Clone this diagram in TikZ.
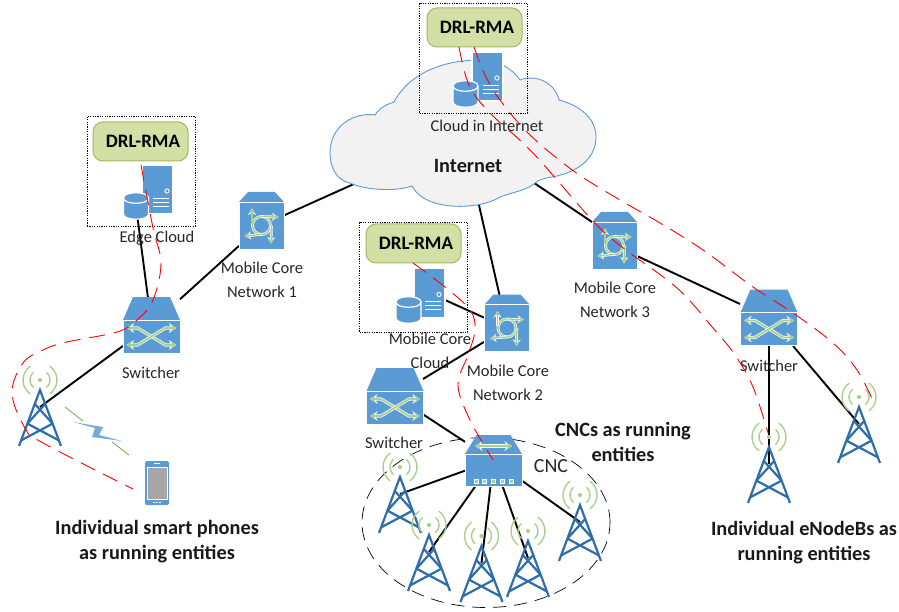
\documentclass[tikz,border=0pt]{standalone}
\usepackage{fontspec}
\setmainfont{Carlito}
\usetikzlibrary{arrows.meta,shapes.geometric}
\definecolor{iconblue}{HTML}{5B9BD5}
\definecolor{towerblue}{HTML}{2E6DA8}
\definecolor{iconGreen}{HTML}{A9D18E}
\definecolor{drlfill}{HTML}{D3E0A5}
\definecolor{drlline}{HTML}{A5B85F}
\definecolor{cloudfill}{HTML}{F2F2F2}
\definecolor{linkgreen}{HTML}{70AD47}
\newcommand{\gdouble}[1]{%
  \draw[white,line width=3.2pt,line join=round,{Stealth[length=7.5pt,width=9.5pt]}-{Stealth[length=7.5pt,width=9.5pt]}] #1;
  \draw[iconGreen,line width=1.9pt,line join=round,{Stealth[length=5.5pt,width=7pt]}-{Stealth[length=5.5pt,width=7pt]}] #1;}
\newcommand{\gsingle}[1]{%
  \draw[white,line width=2.6pt,-{Stealth[length=6.5pt,width=8pt]}] #1;
  \draw[iconGreen,line width=1.3pt,-{Stealth[length=5pt,width=6pt]}] #1;}
\tikzset{
  hitbox/.style 2 args={minimum width=#1pt,minimum height=#2pt,inner sep=0pt,outer sep=0pt},
  link/.style={black,line width=1.9pt},
  redpath/.style={red,line width=0.9pt,dash pattern=on 16pt off 9pt},
  dottedbox/.style={draw=black,line width=0.8pt,dash pattern=on 1.2pt off 1.2pt,minimum width=108pt,minimum height=110pt,inner sep=0pt},
  drlbox/.style={draw=drlline,fill=drlfill,line width=1pt,rounded corners=10pt,minimum width=95pt,minimum height=39pt,inner sep=0pt,font=\fontsize{19}{22}\selectfont\bfseries},
  plain/.style={font=\fontsize{16.5}{24}\selectfont,align=center,text=black!85,inner sep=0pt},
  heading/.style={font=\fontsize{20.3}{25}\selectfont\bfseries,align=center,text=black!90,inner sep=0pt},
  pics/tower/.style={code={
    \draw[iconGreen,line width=1.4pt] (0,-27) +(50:10pt) arc (50:-50:10pt);
    \draw[iconGreen,line width=1.4pt] (0,-27) +(130:10pt) arc (130:230:10pt);
    \draw[iconGreen,line width=1.4pt] (0,-27) +(55:17pt) arc (55:-55:17pt);
    \draw[iconGreen,line width=1.4pt] (0,-27) +(125:17pt) arc (125:235:17pt);
    \fill[iconGreen] (0,-27) circle (2.1pt);
    \draw[towerblue,line width=2.2pt,line join=miter] (-21,39) -- (0,-17) -- (21,39);
    \draw[towerblue,line width=2.2pt] (-5.2,-3) -- (12.6,16.6) (5.2,-3) -- (-12.6,16.6)
      (-12.6,16.6) -- (18.9,33.4) (12.6,16.6) -- (-18.9,33.4);
  }},
  pics/switchicon/.style={code={
    \fill[iconblue] (-18.5,-28) -- (18.5,-28) -- (28.5,-5) -- (-28.5,-5) -- cycle;
    \draw[white,line width=0.8pt,fill=iconblue] (-28.5,-5) rectangle (28.5,28);
    \gdouble{(-25,3) -- (-14,3) -- (14,20) -- (25,20)}
    \gdouble{(-25,20) -- (-14,20) -- (14,3) -- (25,3)}
  }},
  pics/coreicon/.style={code={
    \fill[iconblue] (-13.5,-33.5) -- (13.5,-33.5) -- (22.5,-23.5) -- (-22.5,-23.5) -- cycle;
    \draw[white,line width=0.8pt,fill=iconblue] (-22.5,-23.5) rectangle (22.5,23.5);
    \draw[white,line width=2.8pt] (0,0) circle (9pt);
    \draw[iconGreen,line width=1.5pt] (0,0) circle (9pt);
    \gsingle{(-9.5,-2) -- (-9.5,-17)}
    \gsingle{(0,-9) -- (17,-8.5)}
    \gsingle{(0,9) -- (-17,10.5)}
    \gsingle{(10,0) -- (9.5,18)}
  }},
  pics/cncicon/.style={code={
    \fill[iconblue] (-17,-25.5) -- (17,-25.5) -- (28.5,-6.5) -- (-28.5,-6.5) -- cycle;
    \draw[white,line width=0.8pt,fill=iconblue] (-28.5,-6.5) rectangle (28.5,25.5);
    \gdouble{(-18.5,-14.5) -- (18.5,-14.5)}
    \foreach \px in {-17.5,-9,0,8.5,17.5}
      \draw[white,line width=0.5pt,fill=iconGreen] (\px-2,18.5) rectangle (\px+2,22.5);
  }},
  pics/servericon/.style={code={
    \draw[white,line width=1.4pt,fill=iconblue] (-15.5,-24.5) rectangle (15.5,24.5);
    \draw[white,line width=0.9pt,fill=iconblue] (9.5,1.5) circle (2.1pt);
    \draw[white,line width=0.8pt] (-4.5,8.5) -- (11.5,8.5) (-4.5,12.5) -- (11.5,12.5) (-4.5,16.5) -- (11.5,16.5);
  }},
  pics/dbicon/.style={code={
    \draw[white,line width=1.2pt,fill=iconblue] (-12.5,-8) -- (-12.5,8) .. controls (-12.5,15) and (12.5,15) .. (12.5,8) -- (12.5,-8) .. controls (12.5,-15) and (-12.5,-15) .. (-12.5,-8) -- cycle;
    \draw[white,line width=1.2pt] (-12.5,-8) .. controls (-12.5,-1) and (12.5,-1) .. (12.5,-8);
  }},
  pics/phoneicon/.style={code={
    \fill[iconblue,rounded corners=2pt] (-12,-22) rectangle (12,22);
    \draw[white,line width=0.6pt,fill=black!35] (-10,-16) rectangle (10,16);
    \draw[white,line width=0.7pt] (-3,-19.5) -- (3,-19.5);
    \draw[white,line width=0.9pt,dash pattern=on 2pt off 1pt] (-4,19) -- (4,19);
  }},
}
\begin{document}
\begin{tikzpicture}[x=1pt,y=-1pt]
\useasboundingbox (0,0) rectangle (899,612);
% anchor nodes for the equipment
\coordinate (cloud) at (463,135);
\node[hitbox={57}{56}] (sw1) at (151.5,325) {};
\node[hitbox={56}{56}] (sw2) at (395,396) {};
\node[hitbox={58}{57}] (sw3) at (769,317.5) {};
\node[hitbox={45}{47}] (mc1) at (261.5,225.5) {};
\node[hitbox={46}{48}] (mc2) at (507,328) {};
\node[hitbox={45}{47}] (mc3) at (614.5,245.5) {};
\node[hitbox={57}{51}] (cnc) at (493.5,460.5) {};
\node[hitbox={31}{49}] (srv1) at (157.5,189.5) {};
\node[hitbox={31}{49}] (srv2) at (487.5,76.5) {};
\node[hitbox={31}{48}] (srv3) at (429.5,293) {};
\node[hitbox={25}{26}] (db1) at (136,206) {};
\node[hitbox={25}{26}] (db2) at (465.5,94) {};
\node[hitbox={25}{26}] (db3) at (408.5,310) {};
\node[hitbox={24}{44}] (phone) at (157,483) {};
\coordinate (t1) at (40,407);
\coordinate (ta) at (400,494);
\coordinate (tb) at (429,552);
\coordinate (tc) at (481.5,563);
\coordinate (td) at (528,558);
\coordinate (te) at (580,522);
\coordinate (tf) at (769,464);
\coordinate (tg) at (859,424);
% dashed area round the CNC
\node[ellipse,draw=black,line width=0.7pt,dash pattern=on 13pt off 8pt,minimum width=248pt,minimum height=170pt,inner sep=0pt] (area) at (486,522.5) {};
% connectors
\draw[link] (db1) -- (sw1);
\draw[link] (sw1) -- (mc1);
\draw[link] (sw1) -- (t1);
\draw[link] (mc1) -- (cloud);
\draw[link] (cloud) -- (mc2);
\draw[link] (cloud) -- (mc3.north west);
\draw[link] (mc3) -- (sw3);
\draw[link] (sw3) -- (tf);
\draw[link] (sw3) -- (tg);
\draw[link] (mc2) -- (srv3);
\draw[link] (mc2) -- (sw2);
\draw[link] (sw2) -- (cnc);
\draw[link] (cnc) -- (ta);
\draw[link] (cnc) -- (tb);
\draw[link] (cnc) -- (tc);
\draw[link] (cnc) -- (td);
\draw[link] (cnc) -- (te);
% cloud
\draw[iconblue,line width=0.9pt,fill=cloudfill]
  (330,153) .. controls (330,125) and (355,112) .. (375,115)
  .. controls (380,107) and (388,104) .. (394,102)
  .. controls (410,72) and (445,60) .. (480,60)
  .. controls (497,60) and (512,68) .. (520,80)
  .. controls (535,74) and (555,82) .. (559,100)
  .. controls (582,106) and (596,120) .. (596,137)
  .. controls (596,157) and (580,172) .. (552,177)
  .. controls (545,178) and (538,180) .. (535,183)
  .. controls (528,190) and (510,193) .. (500,197)
  .. controls (480,210) and (425,212) .. (412,186)
  .. controls (395,192) and (365,190) .. (350,183)
  .. controls (335,180) and (330,165) .. (330,153) -- cycle;
% DRL-RMA groups
\node[dottedbox] (box1) at (141,171.5) {};
\node[dottedbox] (box2) at (473.5,58) {};
\node[dottedbox] (box3) at (413.5,277) {};
\node[drlbox] (drl1) at (140.5,141.5) {\hspace{5pt}DRL-RMA};
\node[drlbox] (drl2) at (474.5,27.5) {\hspace{5pt}DRL-RMA};
\node[drlbox] (drl3) at (413.5,243.5) {\hspace{5pt}DRL-RMA};
\pic at (srv1) {servericon};
\pic at (srv2) {servericon};
\pic at (srv3) {servericon};
\pic at (db1) {dbicon};
\pic at (db2) {dbicon};
\pic at (db3) {dbicon};
% equipment
\pic at (sw1) {switchicon};
\pic at (sw2) {switchicon};
\pic at (sw3) {switchicon};
\pic at (mc1) {coreicon};
\pic at (mc2) {coreicon};
\pic at (mc3) {coreicon};
\pic at (cnc) {cncicon};
\pic at (phone) {phoneicon};
\pic at (t1) {tower};
\pic at (ta) {tower};
\pic at (tb) {tower};
\pic at (tc) {tower};
\pic at (td) {tower};
\pic at (te) {tower};
\pic at (tf) {tower};
\pic at (tg) {tower};
% wireless link
\draw[linkgreen,line width=0.8pt] (65,407) -- (83,421);
\draw[linkgreen,line width=0.8pt] (112,442) -- (129,455);
\fill[iconblue,opacity=0.85] (73,422) -- (103,427) -- (99,435) -- (122,441) -- (92,437) -- (95,428) -- cycle;
% labels
\node[plain] (l1) at (157,238) {Edge Cloud};
\node[plain] (l2) at (262,280) {Mobile Core\\Network 1};
\node[plain] (l3) at (487,126) {Cloud in Internet};
\node[plain] (l4) at (615,300) {Mobile Core\\Network 3};
\node[plain] (l5) at (430,350.5) {Mobile Core\\Cloud};
\node[plain] (l6) at (508,383) {Mobile Core\\Network 2};
\node[plain] (l7) at (151,373) {Switcher};
\node[plain] (l8) at (394,443) {Switcher};
\node[plain] (l9) at (769,366) {Switcher};
\node[plain,font=\fontsize{20}{24}\selectfont] (l10) at (551,466) {CNC};
\node[heading] (h0) at (468,166) {Internet};
\node[heading] (h1) at (157,541.5) {Individual smart phones\\as running entities};
\node[heading] (h2) at (623,441.5) {CNCs as running\\entities};
\node[heading] (h3) at (804,543) {Individual eNodeBs as\\running entities};
% red paths of the running entities
\draw[redpath] plot[smooth,tension=0.6] coordinates {(141,165) (153,228) (161,263) (153,300) (137,320) (117,332) (67,342) (43,350) (23,363) (12,393) (25,428) (43,443) (133,489)};
\draw[redpath] plot[smooth,tension=0.6] coordinates {(459,47) (469,85) (490,113) (533,153) (592,220) (622,247) (677,288) (713,328) (735,355) (753,387) (768,433)};
\draw[redpath] plot[smooth,tension=0.6] coordinates {(474,47) (485,75) (500,100) (530,135) (575,172) (620,200) (660,223) (703,250) (753,287) (793,313) (833,343) (857,370) (875,405)};
\draw[redpath] plot[smooth,tension=0.6] coordinates {(413,263) (445,287) (470,310) (475,330) (468,355) (458,385) (470,420) (493,460)};
\end{tikzpicture}
\end{document}
